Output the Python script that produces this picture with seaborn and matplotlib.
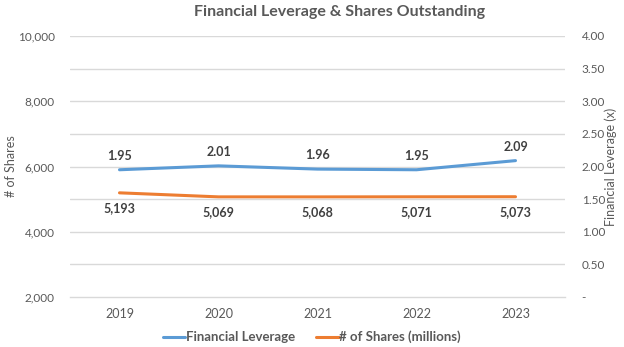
import matplotlib
matplotlib.use("Agg")
import matplotlib.pyplot as plt
import seaborn as sns
import pandas as pd
from matplotlib.ticker import FuncFormatter, MultipleLocator

years = ["2019", "2020", "2021", "2022", "2023"]
leverage = [1.95, 2.01, 1.96, 1.95, 2.09]
shares = [5193, 5069, 5068, 5071, 5073]

sns.set_theme(style="white")
plt.rcParams["font.family"] = ["Lato", "DejaVu Sans"]

BLUE = "#5B9BD5"
ORANGE = "#ED7D31"
TEXT = "#595959"
LABEL = "#404040"
GRID = "#D9D9D9"

df = pd.DataFrame({"Year": years, "Leverage": leverage, "Shares": shares})

fig = plt.figure(figsize=(6.24, 3.47), dpi=100)
ax = fig.add_axes([70 / 624, 1 - 297 / 347, 495 / 624, 261 / 347])
ax2 = ax.twinx()

sns.lineplot(data=df, x="Year", y="Shares", ax=ax, color=ORANGE, linewidth=2.2,
             label="# of Shares (millions)", legend=False, sort=False)
sns.lineplot(data=df, x="Year", y="Leverage", ax=ax2, color=BLUE, linewidth=2.2,
             label="Financial Leverage", legend=False, sort=False)

ax.set_xlim(-0.5, len(years) - 0.5)
ax.set_ylim(2000, 10000)
ax2.set_ylim(0, 4)

# Horizontal gridlines every 0.5 on the right scale
for v in [0.5 * i for i in range(1, 9)]:
    ax2.axhline(v, color=GRID, linewidth=1, zorder=0)
ax.set_axisbelow(True)

ax.yaxis.set_major_locator(MultipleLocator(2000))
ax.yaxis.set_major_formatter(FuncFormatter(lambda v, p: f"{v:,.0f}"))
ax2.yaxis.set_major_locator(MultipleLocator(0.5))
ax2.yaxis.set_major_formatter(FuncFormatter(lambda v, p: "-" if v == 0 else f"{v:.2f}"))

ax.set_xticks(range(len(years)))
ax.set_xticklabels(years)
ax.set_xticks([i - 0.5 for i in range(len(years) + 1)], minor=True)
ax.tick_params(axis="x", which="major", length=0, pad=8, labelsize=9, labelcolor=TEXT)
ax.tick_params(axis="x", which="minor", length=5, width=1, color=GRID, direction="out")
ax.tick_params(axis="y", length=0, pad=11, labelsize=8.5, labelcolor=TEXT)
ax2.tick_params(axis="y", length=0, pad=12, labelsize=8.5, labelcolor=TEXT)

for a in (ax, ax2):
    for s in ("top", "left", "right", "bottom"):
        a.spines[s].set_visible(False)
ax.spines["bottom"].set_visible(True)
ax.spines["bottom"].set_color(GRID)
ax.spines["bottom"].set_linewidth(1)

ax.set_xlabel("")
ax.set_ylabel("# of Shares", color=TEXT, fontsize=9)
ax2.set_ylabel("Financial Leverage (x)", color=TEXT, fontsize=9)
ax.yaxis.set_label_coords((11 - 70) / 495, 0.5)
ax2.yaxis.set_label_coords((611 - 70) / 495, 0.5)
ax.yaxis.label.set_va("center")
ax2.yaxis.label.set_va("center")

for i, v in enumerate(leverage):
    ax2.annotate(f"{v:.2f}", (i, v), xytext=(0, 14), textcoords="offset pixels",
                 ha="center", va="center", fontsize=9, fontweight="bold", color=LABEL)
for i, v in enumerate(shares):
    ax.annotate(f"{v:,}", (i, v), xytext=(0, -15), textcoords="offset pixels",
                ha="center", va="center", fontsize=9, fontweight="bold", color=LABEL)

fig.text(340 / 624, 1 - 12 / 347, "Financial Leverage & Shares Outstanding",
         ha="center", va="center", fontsize=11.5, fontweight="bold", color=TEXT)

h1, l1 = ax2.get_legend_handles_labels()
h2, l2 = ax.get_legend_handles_labels()
fig.legend(h1 + h2, l1 + l2, loc="center", bbox_to_anchor=(312 / 624, 1 - 337 / 347),
           ncol=2, frameon=False, prop={"size": 9.5, "weight": "bold"},
           labelcolor=TEXT, handlelength=1.7, handletextpad=0.05, columnspacing=1.6)

fig.savefig("out.png", dpi=100, facecolor="white")
